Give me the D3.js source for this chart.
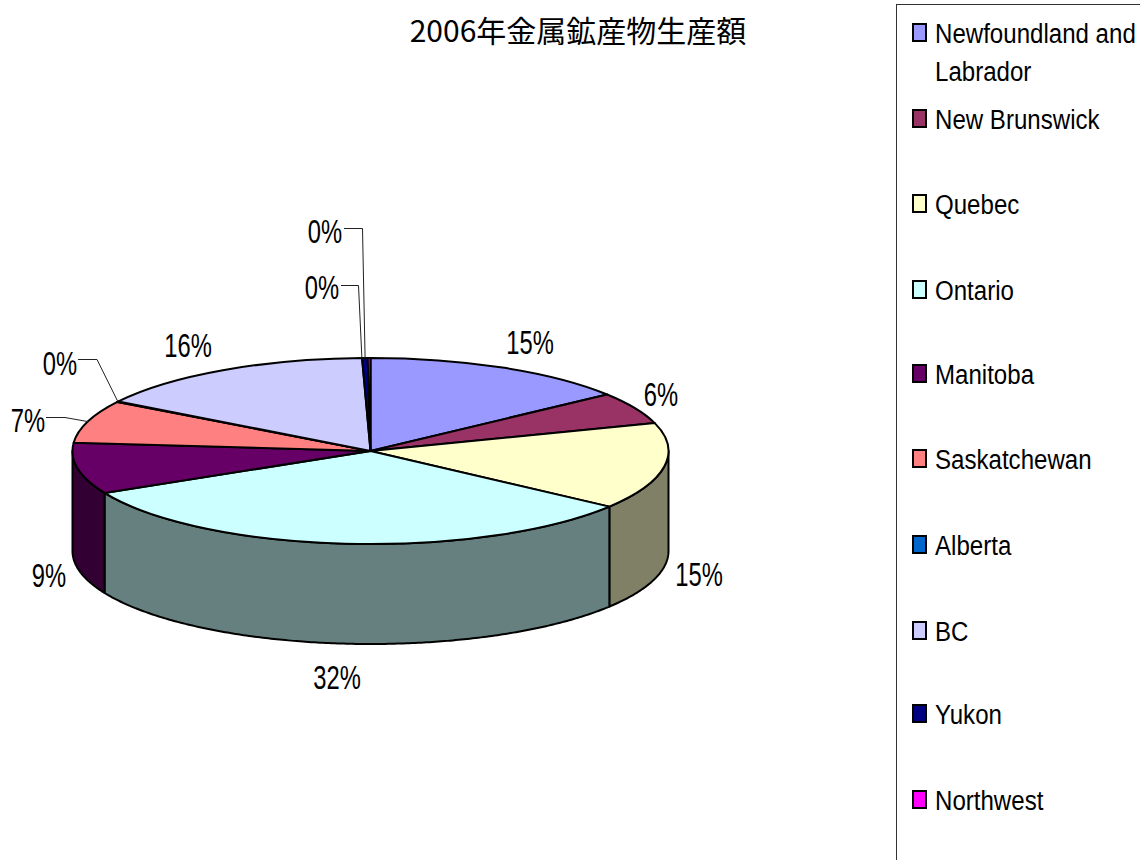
<!DOCTYPE html>
<html>
<head>
<meta charset="utf-8">
<script src="https://cdn.jsdelivr.net/npm/d3@7"></script>
<style>
  html, body { margin: 0; padding: 0; background: #fff; overflow: hidden; }
  text { font-family: "Liberation Sans", sans-serif; fill: #000; }
</style>
</head>
<body>
<div id="chart"></div>
<script>
const chartTitle = "2006年金属鉱産物生産額";
const provinces = ["Newfoundland and Labrador", "New Brunswick", "Quebec", "Ontario", "Manitoba",
  "Saskatchewan", "Alberta", "BC", "Yukon", "Northwest"];
const shares = [14.6, 5.55, 15.05, 32.35, 8.85, 7.45, 0.1, 15.6, 0.3, 0.15];
const topColors = ["#9999ff", "#993366", "#ffffcc", "#ccffff", "#660066",
  "#ff8080", "#0066cc", "#ccccff", "#000080", "#ff00ff"];
const sideColors = ["#4d4d80", "#4d1a33", "#808066", "#668080", "#330033",
  "#804040", "#003366", "#666680", "#000040", "#800080"];

const width = 1140, height = 860;
const cx = 370.5, cy = 451, rx = 298, ry = 93, depth = 100;

const svg = d3.select("#chart").append("svg")
  .attr("width", width)
  .attr("height", height);

svg.append("text")
  .attr("x", 578).attr("y", 42)
  .attr("text-anchor", "middle")
  .style("font-family", "'Noto Sans CJK JP', sans-serif")
  .style("font-size", "30px")
  .text(chartTitle);

const total = d3.sum(shares);
const pct = d3.format(".0%");
const slices = d3.pie().sort(null).value(d => d)(shares);

// screen position of an angle on the tilted disc
const px = a => cx + rx * Math.sin(a);
const py = a => cy - ry * Math.cos(a);

// side wall: only the front half of the disc shows
const frontStart = Math.PI / 2, frontEnd = 3 * Math.PI / 2;
const wall = d3.area()
  .x(a => px(a))
  .y0(a => py(a))
  .y1(a => py(a) + depth);

slices.forEach((s, i) => {
  const a0 = Math.max(s.startAngle, frontStart);
  const a1 = Math.min(s.endAngle, frontEnd);
  if (a1 <= a0) return;
  const steps = d3.range(a0, a1, 0.01).concat([a1]);
  svg.append("path")
    .attr("d", wall(steps))
    .attr("fill", sideColors[i])
    .attr("stroke", "#000")
    .attr("stroke-width", 2)
    .attr("stroke-linejoin", "round");
});

// top of the pie: circular arcs squashed into the ellipse
const arc = d3.arc().innerRadius(0).outerRadius(rx);
svg.append("g")
  .attr("transform", `translate(${cx},${cy}) scale(1,${ry / rx})`)
  .selectAll("path")
  .data(slices)
  .enter()
  .append("path")
  .attr("d", arc)
  .attr("fill", (_, i) => topColors[i])
  .attr("stroke", "#000")
  .attr("stroke-width", 2)
  .attr("stroke-linejoin", "round")
  .attr("vector-effect", "non-scaling-stroke");

// percent labels, placed by hand like the original
const labelSpots = [
  { x: 530, y: 354 }, { x: 661, y: 406 }, { x: 699, y: 586 }, { x: 337, y: 689 }, { x: 49, y: 587 },
  { x: 28, y: 432 }, { x: 60, y: 375 }, { x: 188, y: 357 }, { x: 322, y: 299 }, { x: 325, y: 243 }
];

svg.selectAll("text.pct")
  .data(slices)
  .enter()
  .append("text")
  .attr("class", "pct")
  .attr("transform", (_, i) => `translate(${labelSpots[i].x},${labelSpots[i].y}) scale(0.72,1)`)
  .attr("text-anchor", "middle")
  .style("font-size", "33px")
  .text((_, i) => pct(shares[i] / total));

// leader lines for the crowded small slices
const leaders = [
  { slice: 5, x: 46, y: 417.5, elbow: 65, shift: 0 },
  { slice: 6, x: 78, y: 359.5, elbow: 97, shift: 0 },
  { slice: 8, x: 341, y: 285.5, elbow: 358.5, shift: -3 },
  { slice: 9, x: 344, y: 228.5, elbow: 362.5, shift: -4 }
];
const leaderLine = d3.line();
leaders.forEach(l => {
  const s = slices[l.slice];
  const mid = (s.startAngle + s.endAngle) / 2;
  svg.append("path")
    .attr("d", leaderLine([[l.x, l.y], [l.elbow, l.y], [px(mid) + l.shift, py(mid)]]))
    .attr("fill", "none")
    .attr("stroke", "#222")
    .attr("stroke-width", 1);
});

// legend box runs off the page on the right and bottom
const legend = svg.append("g");
legend.append("rect")
  .attr("x", 896.5).attr("y", 4.5)
  .attr("width", 300).attr("height", 900)
  .attr("fill", "#fff")
  .attr("stroke", "#333")
  .attr("stroke-width", 1);

const legendRows = [33, 119, 204, 290, 374, 459, 545, 631, 714, 800];
const legendLines = ["Newfoundland and", "New Brunswick", "Quebec", "Ontario", "Manitoba",
  "Saskatchewan", "Alberta", "BC", "Yukon", "Northwest"];

const legendText = (str, y) => legend.append("text")
  .attr("transform", `translate(935,${y}) scale(0.86,1)`)
  .style("font-size", "28px")
  .text(str);

provinces.forEach((p, i) => {
  legend.append("rect")
    .attr("x", 913).attr("y", legendRows[i] - 9)
    .attr("width", 13).attr("height", 17)
    .attr("fill", topColors[i])
    .attr("stroke", "#000")
    .attr("stroke-width", 2);
  legendText(legendLines[i], legendRows[i] + 10);
});
legendText("Labrador", 81);
</script>
</body>
</html>
